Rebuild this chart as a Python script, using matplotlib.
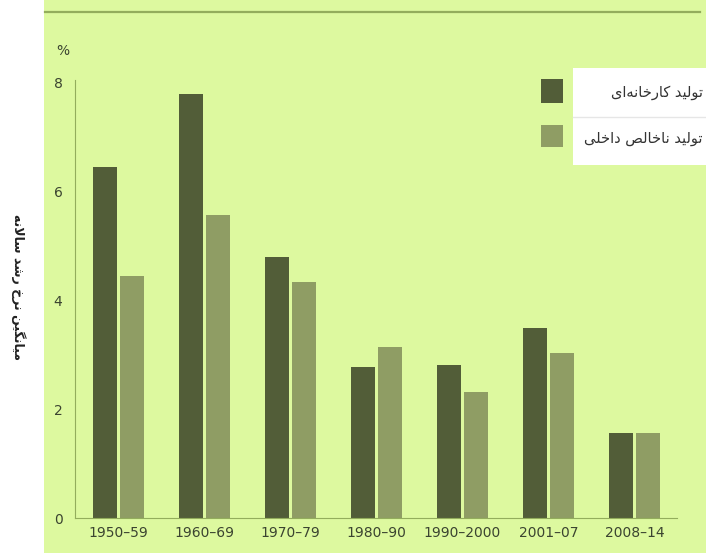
import matplotlib
matplotlib.use("Agg")
import matplotlib.pyplot as plt
import numpy as np
from matplotlib.patches import Rectangle

plt.rcParams["font.family"] = ["DejaVu Sans"]

periods = ["1950–59", "1960–69", "1970–79", "1980–90", "1990–2000", "2001–07", "2008–14"]
manufacturing = [6.45, 7.79, 4.80, 2.78, 2.81, 3.49, 1.56]
gdp = [4.45, 5.57, 4.34, 3.14, 2.32, 3.03, 1.56]
yticks = [0, 2, 4, 6, 8]

label_manuf = "تولید کارخانه‌ای"
label_gdp = "تولید ناخالص داخلی"
ylabel = "میانگین نرخ رشد سالانه"

DARK = "#525d38"
LIGHT = "#8f9d64"
BG = "#ddf99f"
TXT = "#3b4430"

# presentation forms: isolated, final, initial, medial
FORMS = {
    "ا": ("\ufe8d", "\ufe8e"),
    "ت": ("\ufe95", "\ufe96", "\ufe97", "\ufe98"),
    "خ": ("\ufea5", "\ufea6", "\ufea7", "\ufea8"),
    "د": ("\ufea9", "\ufeaa"),
    "ر": ("\ufead", "\ufeae"),
    "س": ("\ufeb1", "\ufeb2", "\ufeb3", "\ufeb4"),
    "ش": ("\ufeb5", "\ufeb6", "\ufeb7", "\ufeb8"),
    "ص": ("\ufeb9", "\ufeba", "\ufebb", "\ufebc"),
    "ل": ("\ufedd", "\ufede", "\ufedf", "\ufee0"),
    "م": ("\ufee1", "\ufee2", "\ufee3", "\ufee4"),
    "ن": ("\ufee5", "\ufee6", "\ufee7", "\ufee8"),
    "ه": ("\ufee9", "\ufeea", "\ufeeb", "\ufeec"),
    "و": ("\ufeed", "\ufeee"),
    "ی": ("\ufbfc", "\ufbfd", "\ufbfe", "\ufbff"),
    "ک": ("\ufb8e", "\ufb8f", "\ufb90", "\ufb91"),
    "گ": ("\ufb92", "\ufb93", "\ufb94", "\ufb95"),
}


def shape(text):
    # join letters and flip to visual order (matplotlib has no bidi)
    chars = list(text)
    out = []
    i = 0
    while i < len(chars):
        c = chars[i]
        if c not in FORMS:
            if c != "\u200c":
                out.append(c)
            i += 1
            continue
        prev = chars[i - 1] if i > 0 else None
        joins_prev = prev in FORMS and len(FORMS[prev]) == 4
        if c == "ل" and i + 1 < len(chars) and chars[i + 1] == "ا":
            out.append("\ufefc" if joins_prev else "\ufefb")
            i += 2
            continue
        nxt = chars[i + 1] if i + 1 < len(chars) else None
        joins_next = len(FORMS[c]) == 4 and nxt in FORMS
        f = FORMS[c]
        if joins_prev and joins_next:
            out.append(f[3])
        elif joins_prev:
            out.append(f[1])
        elif joins_next:
            out.append(f[2])
        else:
            out.append(f[0])
        i += 1
    return "".join(out[::-1])


fig = plt.figure(figsize=(7.06, 5.55), dpi=100)
fig.patch.set_facecolor("white")

# green panel and top rule
fig.patches.append(Rectangle((44 / 706, 2 / 555), 1 - 44 / 706, 1 - 2 / 555,
                             transform=fig.transFigure, facecolor=BG, edgecolor="none", zorder=-2))
fig.lines.append(plt.Line2D([45 / 706, 700 / 706], [1 - 12 / 555, 1 - 12 / 555],
                            transform=fig.transFigure, color="#93ad5c", lw=1.6))

ax = fig.add_axes([75 / 706, 1 - 518 / 555, (677 - 75) / 706, (518 - 80) / 555])
ax.set_facecolor("none")

x = np.arange(len(periods))
w = 0.28
ax.bar(x - w / 2 - 0.012, manufacturing, w, color=DARK, zorder=2)
ax.bar(x + w / 2 + 0.012, gdp, w, color=LIGHT, zorder=2)

ax.set_xlim(-0.506, 6.494)
ax.set_ylim(0, 8.055)
ax.set_xticks(x)
ax.set_xticklabels(periods, fontsize=10, color=TXT)
ax.set_yticks(yticks)
ax.set_yticklabels([str(v) for v in yticks], fontsize=10, color=TXT)
ax.tick_params(axis="both", length=0)
ax.tick_params(axis="x", pad=6)
ax.tick_params(axis="y", pad=9)
for s in ["top", "right"]:
    ax.spines[s].set_visible(False)
ax.spines["left"].set_color("#93ad5c")
ax.spines["bottom"].set_color("#93ad5c")

fig.text(63 / 706, 1 - 51 / 555, "%", fontsize=10, color=TXT, ha="center", va="center")
fig.text(18 / 706, 1 - 287 / 555, shape(ylabel), rotation=270, fontsize=9,
         fontweight="bold", color="#222222", ha="center", va="center")

# legend box
fig.patches.append(Rectangle((573 / 706, 1 - 165 / 555), (706 - 573) / 706, (165 - 68) / 555,
                             transform=fig.transFigure, facecolor="white", edgecolor="none"))
fig.lines.append(plt.Line2D([573 / 706, 1], [1 - 117 / 555, 1 - 117 / 555],
                            transform=fig.transFigure, color="#e6e6e6", lw=1))
fig.patches.append(Rectangle((541 / 706, 1 - 103 / 555), 22 / 706, 24 / 555,
                             transform=fig.transFigure, facecolor=DARK, edgecolor="none"))
fig.patches.append(Rectangle((541 / 706, 1 - 147 / 555), 22 / 706, 22 / 555,
                             transform=fig.transFigure, facecolor=LIGHT, edgecolor="none"))
fig.text(703 / 706, 1 - 92 / 555, shape(label_manuf), fontsize=10.5, color="#333333",
         ha="right", va="center")
fig.text(703 / 706, 1 - 138 / 555, shape(label_gdp), fontsize=10.5, color="#333333",
         ha="right", va="center")

fig.savefig("out.png", dpi=100, facecolor=fig.get_facecolor())
